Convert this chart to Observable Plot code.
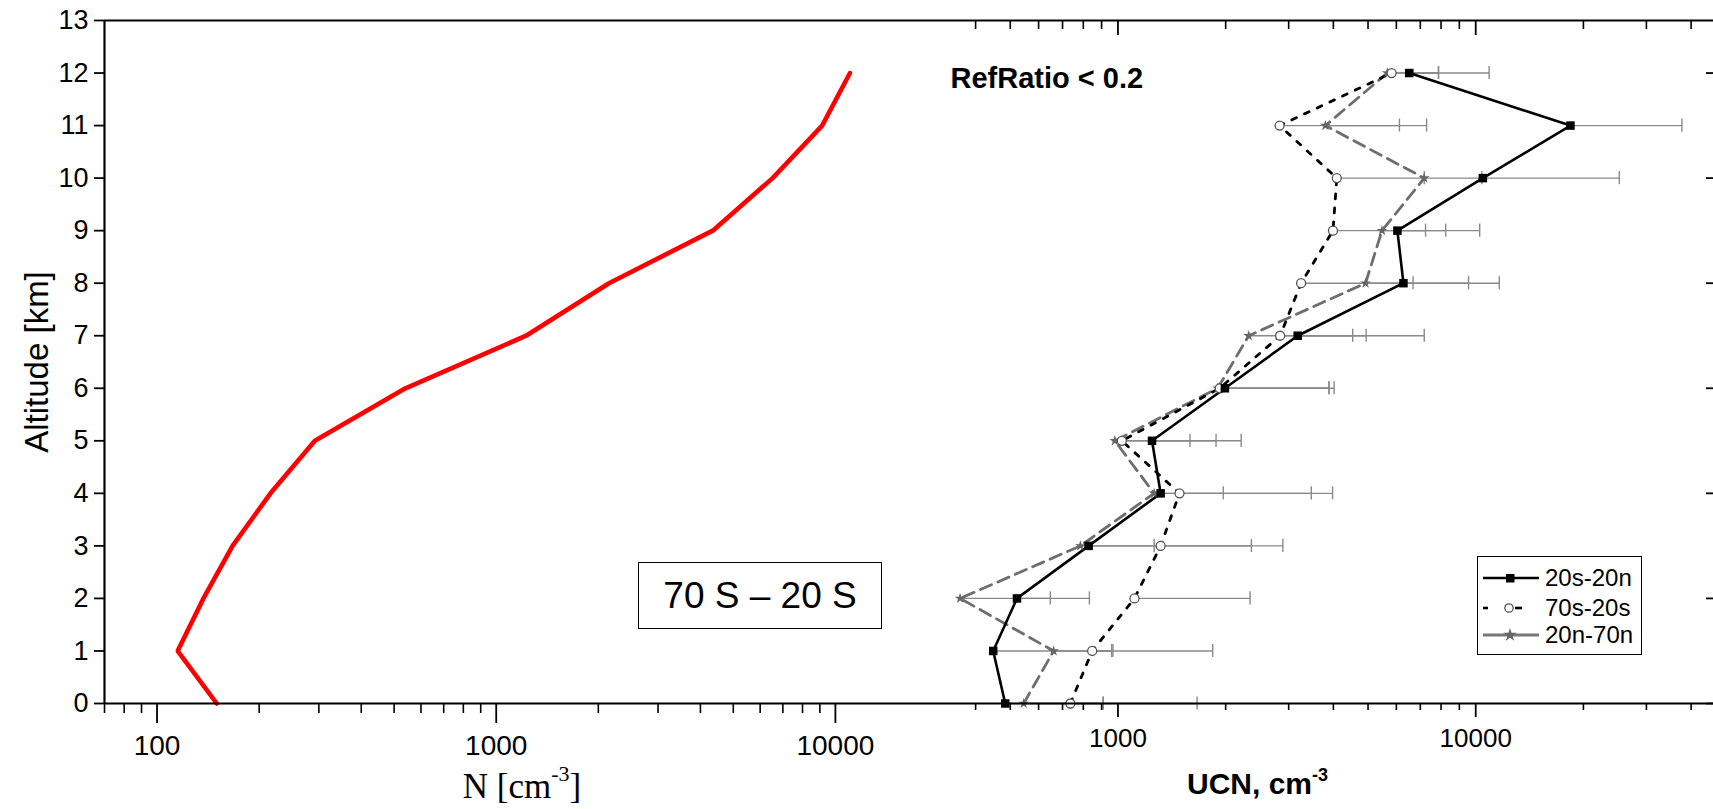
<!DOCTYPE html>
<html>
<head>
<meta charset="utf-8">
<script src="https://cdn.jsdelivr.net/npm/d3@7"></script>
<script src="https://cdn.jsdelivr.net/npm/@observablehq/plot@0.6"></script>
<style>
  body { margin: 0; background: #fff; }
  #wrap { position: relative; width: 1713px; height: 809px; display: flex; font-family: "Liberation Sans", Arial, sans-serif; overflow: hidden; }
  #wrap > svg { flex: none; }
  .tag { position: absolute; box-sizing: border-box; border: 1.6px solid #000; background: #fff;
         display: flex; align-items: center; justify-content: center; font-size: 37px; color: #000; }
  .legend { position: absolute; box-sizing: border-box; border: 1.8px solid #000; background: #fff; }
  .legend .row { position: absolute; left: 0; height: 28px; display: flex; align-items: center; font-size: 24px; color: #000; }
  .legend svg { position: absolute; left: 5px; top: 4px; }
  .legend span { position: absolute; left: 67px; white-space: nowrap; }
</style>
</head>
<body>
<div id="wrap"></div>
<script>
// ---------- data ----------
const altitudes = [0, 1, 2, 3, 4, 5, 6, 7, 8, 9, 10, 11, 12];
// left panel: N [cm-3]
const nConc = [150, 115, 137, 167, 216, 292, 540, 1225, 2150, 4350, 6530, 9140, 11040];

// right panel: UCN, cm-3 (mean and upper end of error bar)
const seriesNames = ["20s-20n", "70s-20s", "20n-70n"];
const ucn20s20n = [484, 448, 522, 828, 1316, 1245, 1990, 3180, 6280, 6040, 10470, 18400, 6520];
const err20s20n = [909, 968, 832, 2360, 3470, 2210, 4020, 7180, 11640, 10260, 25200, 37700, 10900];
const ucn70s20s = [736, 847, 1112, 1316, 1486, 1025, 1925, 2840, 3250, 3990, 4090, 2830, 5820];
const err70s20s = [1664, 1840, 2340, 2890, 3980, 1880, 3890, 4940, 6680, 7240, 7180, 6120, 7870];
const ucn20n70n = [545, 661, 362, 785, 1262, 980, 1900, 2320, 4920, 5470, 7180, 3800, 5660];
const err20n70n = [909, 960, 647, 1262, 1970, 1590, 3890, 4530, 9550, 8240, 10400, 7290, 7870];

// ticks and labels
const yTicks = [0, 1, 2, 3, 4, 5, 6, 7, 8, 9, 10, 11, 12, 13];
const rightYTicks = [0, 2, 4, 6, 8, 10, 12];
const leftMajorTicks = [100, 1000, 10000];
const leftMinorTicks = [70, 80, 90, 200, 300, 400, 500, 600, 700, 800, 900, 2000, 3000, 4000, 5000, 6000, 7000, 8000, 9000];
const rightMajorTicks = [1000, 10000];
const rightMinorTicks = [400, 500, 600, 700, 800, 900, 2000, 3000, 4000, 5000, 6000, 7000, 8000, 9000, 20000, 30000, 40000];
const yLabel = "Altitude [km]";
const leftXLabel = "N [cm-3]";
const rightXLabel = "UCN, cm-3";
const refRatioText = "RefRatio < 0.2";
const panelTag = "70 S – 20 S";

// ---------- tables ----------
const leftData = altitudes.map((a, i) => ({alt: a, n: nConc[i]}));
const mk = (vals, errs, name) => altitudes.map((a, i) => ({alt: a, v: vals[i], e: errs[i], series: name}));
const sq = mk(ucn20s20n, err20s20n, seriesNames[0]);
const ci = mk(ucn70s20s, err70s20s, seriesNames[1]);
const st = mk(ucn20n70n, err20n70n, seriesNames[2]);
const errAll = [...st, ...ci, ...sq];

const sans = "Liberation Sans, Arial, Helvetica, sans-serif";
const baseStyle = {fontFamily: sans, fontSize: "26px", color: "black", background: "white", overflow: "visible"};

// ---------- left panel ----------
const left = Plot.plot({
  width: 937, height: 809,
  marginLeft: 104, marginRight: 0, marginTop: 20, marginBottom: 106,
  x: {type: "log", domain: [70, 20000], axis: null},
  y: {domain: [0, 13], axis: null},
  style: baseStyle,
  marks: [
    Plot.line(leftData, {x: "n", y: "alt", stroke: "#ff0000", strokeWidth: 4.6, strokeLinejoin: "miter"}),
    Plot.ruleY([0], {stroke: "black", strokeWidth: 2.2}),
    Plot.ruleY([13], {stroke: "black", strokeWidth: 2.2}),
    Plot.ruleX([70], {stroke: "black", strokeWidth: 2.2}),
    Plot.axisY({ticks: yTicks, tickSize: 10, tickPadding: 6, tickFormat: d => String(d), fontSize: 27, strokeWidth: 1.8, label: null}),
    Plot.axisX({ticks: leftMajorTicks, tickSize: 20, fill: "none", strokeWidth: 1.8, label: null}),
    Plot.axisX({ticks: leftMinorTicks, tickSize: 10, fill: "none", strokeWidth: 1.6, label: null}),
    Plot.axisX({ticks: leftMajorTicks, tickSize: 0, tickPadding: 32, tickFormat: d => String(d), fontSize: 28, label: null}),
    Plot.text([yLabel], {text: d => d, frameAnchor: "left", dx: -57, rotate: -90, fontSize: 33, lineAnchor: "bottom", textAnchor: "middle"}),
    Plot.text([leftXLabel], {text: d => d, frameAnchor: "bottom", dx: 1, dy: 94, lineAnchor: "bottom", textAnchor: "middle",
      fontSize: 35, fontFamily: "Liberation Serif, Times New Roman, serif"})
  ]
});

// ---------- right panel ----------
const right = Plot.plot({
  width: 776, height: 809,
  marginLeft: 0, marginRight: 0, marginTop: 20, marginBottom: 106,
  x: {type: "log", domain: [313, 46200], axis: null},
  y: {domain: [0, 13], axis: null},
  style: baseStyle,
  marks: [
    Plot.link(errAll, {x1: "v", x2: "e", y1: "alt", y2: "alt", stroke: "#8a8a8a", strokeWidth: 1.4}),
    Plot.ruleX(errAll, {x: "e", y1: d => d.alt - 0.125, y2: d => d.alt + 0.125, stroke: "#8a8a8a", strokeWidth: 1.4}),
    Plot.line(st, {x: "v", y: "alt", stroke: "#6e6e6e", strokeWidth: 2.8, strokeDasharray: "12,7", strokeLinejoin: "miter"}),
    Plot.line(ci, {x: "v", y: "alt", stroke: "black", strokeWidth: 2.8, strokeDasharray: "5,9"}),
    Plot.line(sq, {x: "v", y: "alt", stroke: "black", strokeWidth: 2.6, strokeLinejoin: "miter"}),
    Plot.dot(st, {x: "v", y: "alt", symbol: "star", fill: "#666", r: 3.4}),
    Plot.dot(ci, {x: "v", y: "alt", symbol: "circle", fill: "white", stroke: "#555", strokeWidth: 1.3, r: 4.5}),
    Plot.dot(sq, {x: "v", y: "alt", symbol: "square", fill: "black", r: 4.8}),
    Plot.ruleY([0], {stroke: "black", strokeWidth: 2.2}),
    Plot.ruleY([13], {stroke: "black", strokeWidth: 2.2}),
    Plot.axisX({ticks: rightMajorTicks, tickSize: 14, fill: "none", strokeWidth: 1.8, label: null}),
    Plot.axisX({ticks: rightMinorTicks, tickSize: 7, fill: "none", strokeWidth: 1.6, label: null}),
    Plot.axisX({anchor: "top", ticks: rightMajorTicks, tickSize: -14, fill: "none", strokeWidth: 1.8, label: null}),
    Plot.axisX({anchor: "top", ticks: rightMinorTicks, tickSize: -8, fill: "none", strokeWidth: 1.6, label: null}),
    Plot.axisY({anchor: "right", ticks: rightYTicks, tickSize: -8, fill: "none", strokeWidth: 1.8, label: null}),
    Plot.axisX({ticks: rightMajorTicks, tickSize: 0, tickPadding: 25, tickFormat: d => String(d), fontSize: 26, label: null}),
    Plot.text([refRatioText], {text: d => d, frameAnchor: "top-left", dx: 13, dy: 67, lineAnchor: "bottom", textAnchor: "start",
      fontSize: 29, fontWeight: "bold"}),
    Plot.text([rightXLabel], {text: d => d, frameAnchor: "bottom", dx: -68, dy: 90, lineAnchor: "bottom", textAnchor: "middle",
      fontSize: 30, fontWeight: "bold"})
  ]
});

// superscripts for unit labels (real text, tspans)
function superscript(svg, full, base, sup, supSize, rise) {
  svg.querySelectorAll("text").forEach(t => {
    if (t.textContent !== full) return;
    const after = full.slice(base.length + sup.length);
    while (t.firstChild) t.removeChild(t.firstChild);
    t.appendChild(document.createTextNode(base));
    const s = document.createElementNS("http://www.w3.org/2000/svg", "tspan");
    s.setAttribute("dy", -rise); s.setAttribute("font-size", supSize); s.textContent = sup;
    t.appendChild(s);
    if (after) {
      const a = document.createElementNS("http://www.w3.org/2000/svg", "tspan");
      a.setAttribute("dy", rise); a.textContent = after;
      t.appendChild(a);
    }
  });
}
superscript(left, leftXLabel, "N [cm", "-3", 22, 17);
superscript(right, rightXLabel, "UCN, cm", "-3", 18, 13);

const wrap = document.getElementById("wrap");
wrap.appendChild(left);
wrap.appendChild(right);

// panel tag box
const tag = document.createElement("div");
tag.className = "tag";
tag.style.cssText = "left:638px;top:562px;width:244px;height:67px;";
tag.textContent = panelTag;
wrap.appendChild(tag);

// legend
const legend = document.createElement("div");
legend.className = "legend";
legend.style.cssText = "left:1477px;top:556px;width:165px;height:99px;";
const star = d3.symbol(d3.symbolStar, 55)();
const swatches = [
  `<line x1="0" y1="10" x2="56" y2="10" stroke="#000" stroke-width="2.6"/><rect x="23" y="6" width="8.5" height="8.5" fill="#000"/>`,
  `<line x1="0" y1="10" x2="5" y2="10" stroke="#000" stroke-width="2.6"/><circle cx="26" cy="10" r="4.2" fill="#fff" stroke="#555" stroke-width="1.3"/><line x1="32" y1="10" x2="39" y2="10" stroke="#000" stroke-width="2.6"/>`,
  `<line x1="0" y1="10" x2="56" y2="10" stroke="#777" stroke-width="3"/><path transform="translate(27,10)" d="${star}" fill="#666"/>`
];
const rowTops = [7, 37, 64];
seriesNames.forEach((name, i) => {
  const row = document.createElement("div");
  row.className = "row";
  row.style.top = rowTops[i] + "px";
  row.innerHTML = `<svg width="58" height="20">${swatches[i]}</svg><span>${name}</span>`;
  legend.appendChild(row);
});
wrap.appendChild(legend);
</script>
</body>
</html>
